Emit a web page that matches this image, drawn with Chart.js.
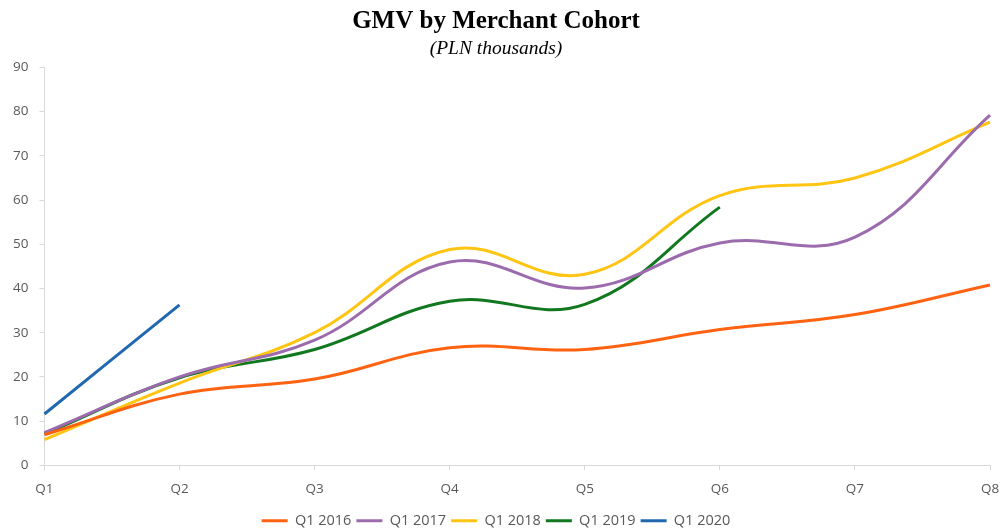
<!DOCTYPE html>
<html>
<head>
<meta charset="utf-8">
<script src="https://cdn.jsdelivr.net/npm/chart.js@4"></script>
<style>
  html, body { margin: 0; padding: 0; background: #fff; overflow: hidden; }
  #wrap { width: 1002px; height: 529px; overflow: hidden; }
</style>
</head>
<body>
<div id="wrap"><canvas id="chart" width="1002" height="538"></canvas></div>
<script>
// Quarters since cohort start
const quarters = ['Q1', 'Q2', 'Q3', 'Q4', 'Q5', 'Q6', 'Q7', 'Q8'];

// GMV per cohort, PLN thousands
const cohort2016 = [6.9, 16.1, 19.5, 26.6, 26.2, 30.7, 34.1, 40.8];
const cohort2017 = [7.4, 20.0, 28.3, 46.0, 40.1, 50.3, 51.6, 79.2];
const cohort2018 = [5.8, 18.6, 30.0, 48.8, 43.2, 61.0, 65.0, 77.6];
const cohort2019 = [7.1, 19.8, 26.2, 37.1, 36.4, 58.4];
const cohort2020 = [11.6, 36.3];

const cohortNames = ['Q1 2016', 'Q1 2017', 'Q1 2018', 'Q1 2019', 'Q1 2020'];
const cohortColors = ['#FF6312', '#9C6BAE', '#FFC512', '#11781F', '#2068B0'];

const yTicks = [0, 10, 20, 30, 40, 50, 60, 70, 80, 90];

const series = [cohort2016, cohort2017, cohort2018, cohort2019, cohort2020];

const datasets = series.map((values, i) => ({
    label: cohortNames[i],
    data: values,
    borderColor: cohortColors[i],
    backgroundColor: cohortColors[i],
    borderWidth: 3,
    pointRadius: 0,
    pointHoverRadius: 0,
    tension: 0.4,
    fill: false
}));

const axisGray = '#D9D9D9';
const textGray = '#595959';
const tickFont = { family: '"Open Sans", sans-serif', size: 13.5 };

// canvas is a touch taller than the window so the legend sits near the bottom edge
new Chart(document.getElementById('chart').getContext('2d'), {
    type: 'line',
    data: { labels: quarters, datasets },
    options: {
        responsive: false,
        animation: false,
        layout: { padding: { left: 2, right: 12, top: 3, bottom: 0 } },
        plugins: {
            title: {
                display: true,
                text: 'GMV by Merchant Cohort',
                color: '#000',
                font: { family: '"Liberation Serif", "Times New Roman", serif', size: 25, weight: 'bold' },
                padding: { top: 4, bottom: 0 }
            },
            subtitle: {
                display: true,
                text: '(PLN thousands)',
                color: '#000',
                font: { family: '"Liberation Serif", "Times New Roman", serif', size: 19.5, style: 'italic' },
                padding: { top: 0, bottom: 7 }
            },
            legend: {
                position: 'bottom',
                labels: {
                    usePointStyle: true,
                    pointStyle: 'line',
                    pointStyleWidth: 26,
                    boxHeight: 14,
                    padding: 5,
                    color: textGray,
                    font: { family: '"Open Sans", sans-serif', size: 14.5 }
                }
            },
            tooltip: { enabled: false }
        },
        scales: {
            x: {
                offset: false,
                // tick padding would otherwise widen the right margin too
                afterFit: scale => { scale.paddingRight = 0; },
                grid: {
                    display: true,
                    drawOnChartArea: false,
                    drawTicks: true,
                    tickLength: 5,
                    color: axisGray
                },
                border: { display: true, color: axisGray, width: 1 },
                ticks: {
                    color: textGray,
                    font: tickFont,
                    maxRotation: 0,
                    padding: 11
                }
            },
            y: {
                min: 0,
                max: 90,
                afterBuildTicks: axis => { axis.ticks = yTicks.map(v => ({ value: v })); },
                grid: {
                    display: true,
                    drawOnChartArea: false,
                    drawTicks: true,
                    tickLength: 5,
                    color: axisGray
                },
                border: { display: true, color: axisGray, width: 1 },
                ticks: {
                    color: textGray,
                    font: tickFont,
                    padding: 11
                }
            }
        }
    }
});
</script>
</body>
</html>
